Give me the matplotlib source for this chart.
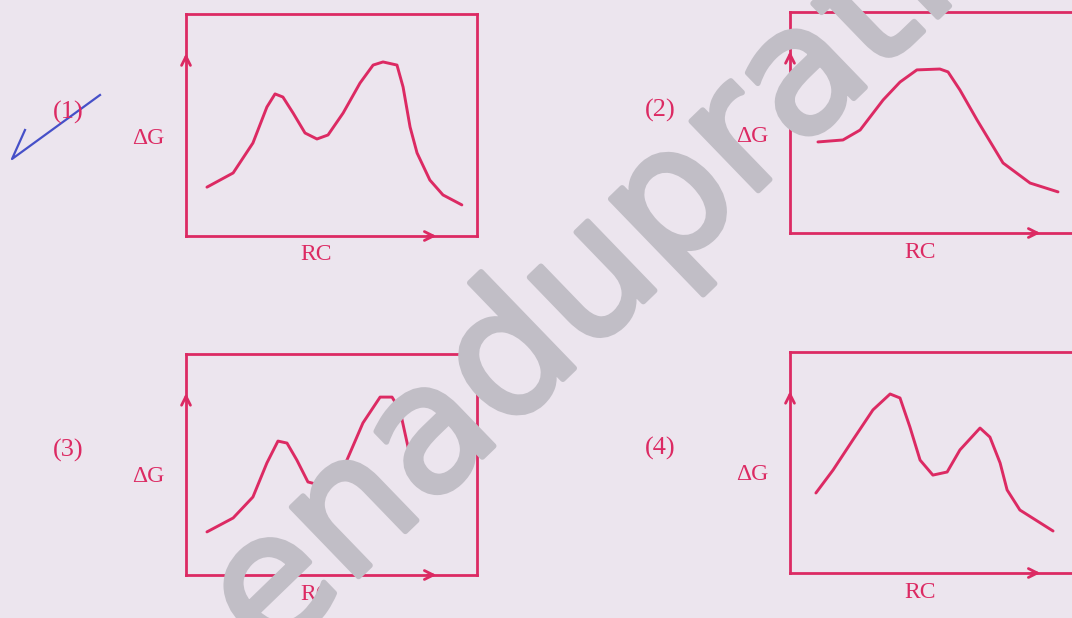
import numpy as np
import matplotlib
matplotlib.use('Agg')
import matplotlib.pyplot as plt
import matplotlib.patheffects as pe

# curve data: reaction coordinate (0-100) vs free energy (0-100) for each option
rc1 = [7.2, 16.2, 23.0, 27.8, 30.6, 33.3, 36.8, 40.9, 45.0, 48.8, 54.0, 59.8, 64.3, 67.7, 72.5, 74.6, 77.0, 79.4, 83.8, 88.3, 94.8]
dg1 = [22.0, 28.4, 41.9, 58.1, 64.0, 62.6, 55.4, 46.4, 43.7, 45.5, 55.4, 68.9, 77.0, 78.4, 77.0, 67.1, 49.1, 37.4, 25.2, 18.5, 14.0]

rc2 = [9.6, 18.2, 24.1, 32.0, 37.8, 43.6, 51.5, 54.3, 58.4, 64.3, 73.2, 82.5, 92.1]
dg2 = [41.2, 42.1, 46.6, 60.2, 68.3, 73.8, 74.2, 72.9, 64.7, 51.1, 31.7, 22.6, 18.6]

rc3 = [7.2, 16.2, 23.0, 27.8, 31.6, 34.7, 38.1, 41.9, 46.0, 50.5, 55.3, 60.8, 66.7, 70.8, 73.5, 76.3, 79.4, 83.8, 89.0]
dg3 = [19.5, 25.8, 35.3, 50.7, 60.6, 59.7, 52.0, 42.1, 40.7, 43.0, 52.0, 68.8, 80.5, 80.5, 74.7, 57.9, 47.5, 43.0, 43.0]

rc4 = [8.9, 14.8, 21.6, 28.5, 34.4, 37.8, 41.2, 44.7, 49.1, 54.0, 58.4, 65.3, 68.7, 72.2, 74.6, 79.0, 90.4]
dg4 = [36.2, 46.6, 60.2, 73.8, 81.0, 79.2, 66.1, 51.1, 44.3, 45.7, 55.7, 65.6, 61.5, 49.8, 37.6, 28.5, 19.0]

option_labels = ['(1)', '(2)', '(3)', '(4)']
y_label = '\u0394G'
x_label = 'RC'

# the blue pen tick over option (1), figure pixels
tick_x = [25, 12, 100]
tick_y = [130, 159, 95]

W, H = 1072, 618
pink = '#dc2a63'
bg = '#ece5ee'
wm_grey = '#c1bec6'

fig = plt.figure(figsize=(W / 100, H / 100), dpi=100)
fig.patch.set_facecolor(bg)

# box positions in pixels: left, right, top, bottom
boxes = [(186, 477, 14, 236), (790, 1081, 12, 233),
         (186, 477, 354, 575), (790, 1081, 352, 573)]
curves = [(rc1, dg1), (rc2, dg2), (rc3, dg3), (rc4, dg4)]
label_pos = [(68, 112), (660, 110), (68, 450), (660, 448)]

for (l, r, t, b), (xs, ys), lab, (lx, ly) in zip(boxes, curves, option_labels, label_pos):
    ax = fig.add_axes([l / W, 1 - b / H, (r - l) / W, (b - t) / H])
    ax.set_facecolor('none')
    ax.plot(xs, ys, color=pink, lw=2.1, solid_joinstyle='round', solid_capstyle='round')
    ax.set_xlim(0, 100)
    ax.set_ylim(0, 100)
    ax.set_xticks([])
    ax.set_yticks([])
    for s in ax.spines.values():
        s.set_color(pink)
        s.set_linewidth(2.0)
    # axis arrows sitting on the frame
    ax.annotate('', xy=(0, 0.835), xytext=(0, 0.78), xycoords='axes fraction',
                arrowprops=dict(arrowstyle='->', color=pink, lw=2.0, mutation_scale=16))
    ax.annotate('', xy=(0.87, 0), xytext=(0.82, 0), xycoords='axes fraction',
                arrowprops=dict(arrowstyle='->', color=pink, lw=2.0, mutation_scale=16))
    fig.text(lx / W, 1 - ly / H, lab, color=pink, fontsize=19, family='Liberation Serif',
             ha='center', va='center')
    fig.text((l - 38) / W, 1 - (ly + 26) / H, y_label, color=pink, fontsize=17,
             family='Liberation Serif', ha='center', va='center')
    fig.text((l + 130) / W, 1 - (b + 19) / H, x_label, color=pink, fontsize=17,
             family='Liberation Serif', ha='center', va='center')

# pen mark
fig.add_artist(plt.Line2D(np.array(tick_x) / W, 1 - np.array(tick_y) / H,
                          color='#4650c8', lw=1.6, transform=fig.transFigure))

# watermark (regular weight, thickened a bit with a stroke of the same grey)
fig.text(269 / W, 1 - 663 / H, 'enaduprathibha', color=wm_grey,
         fontsize=127, fontweight='normal', family='DejaVu Sans', rotation=44,
         rotation_mode='anchor', ha='left', va='baseline', zorder=10,
         path_effects=[pe.withStroke(linewidth=4, foreground=wm_grey)])

fig.savefig('out.png', dpi=100, facecolor=bg)
